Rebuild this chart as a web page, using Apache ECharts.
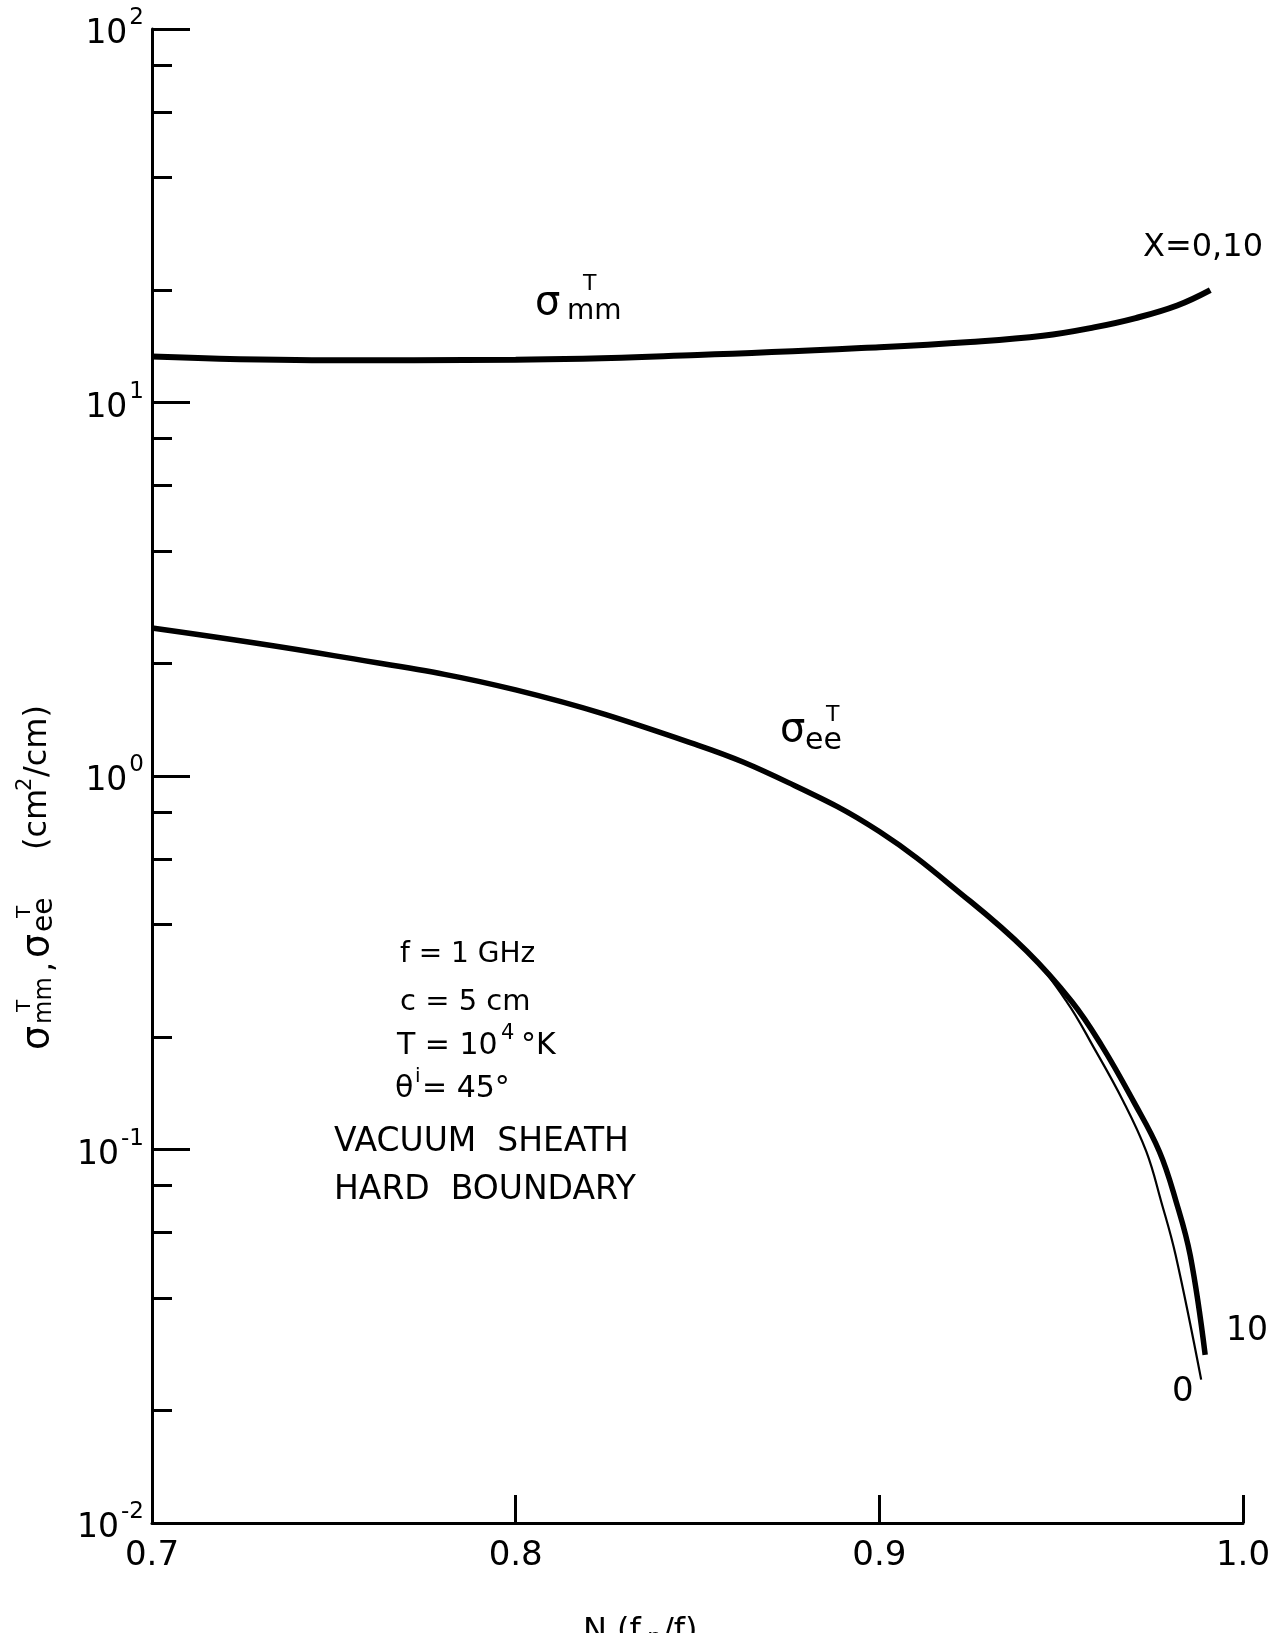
<!DOCTYPE html>
<html><head><meta charset="utf-8">
<script src="https://cdn.jsdelivr.net/npm/echarts@6/dist/echarts.min.js"></script>
<style>html,body{margin:0;padding:0;background:#fff}#c{width:1278px;height:1633px}</style>
</head><body><div id="c"></div>
<script>
// ---- data ----
const xTickValues = [0.7, 0.8, 0.9, 1.0];
const yMajorTicks = [0.01, 0.1, 1, 10, 100];
const yMinorTicks = [0.02,0.04,0.06,0.08, 0.2,0.4,0.6,0.8, 2,4,6,8, 20,40,60,80];

// sigma_mm^T, X = 0 and 10 (coincident)
const mmX = [0.700, 0.744, 0.800, 0.850, 0.900, 0.925, 0.945, 0.959, 0.9705, 0.9819, 0.9910];
const mmY = [13.27, 12.98, 13.02, 13.40, 14.06, 14.52, 15.09, 15.89, 16.83, 18.19, 20.0];

// sigma_ee^T, X = 10 (heavy line)
const ee10X = [0.700, 0.750, 0.800, 0.850, 0.875, 0.900, 0.925, 0.9405, 0.9529, 0.9611, 0.9699, 0.9770, 0.9816, 0.9855, 0.9896];
const ee10Y = [2.49, 2.10, 1.70, 1.21, 0.96, 0.71, 0.462, 0.340, 0.249, 0.190, 0.1345, 0.0988, 0.0726, 0.0520, 0.0282];

// sigma_ee^T, X = 0 (light line)
const ee0X = [0.700, 0.750, 0.800, 0.850, 0.875, 0.900, 0.925, 0.9405, 0.9515, 0.9589, 0.9671, 0.9734, 0.9775, 0.9815, 0.9885];
const ee0Y = [2.49, 2.10, 1.70, 1.21, 0.96, 0.71, 0.462, 0.340, 0.249, 0.188, 0.1345, 0.0988, 0.0726, 0.0520, 0.0242];

const FONT = '"DejaVu Sans", "Liberation Sans", sans-serif';
const zip = (xs, ys) => xs.map((x, i) => [x, ys[i]]);

function txt(t, x, y, size, align, extra) {
  return Object.assign({
    type: 'text', x: x, y: y,
    style: { text: t, font: size + 'px ' + FONT, fill: '#000',
             textAlign: align || 'left', textVerticalAlign: 'middle' }
  }, extra || {});
}
function group(x, y, rotation, pieces) {
  return { type: 'group', x: x, y: y, rotation: rotation || 0,
    children: pieces.map(p => txt(p[0], p[1], p[2], p[3], p[4])) };
}

const chart = echarts.init(document.getElementById('c'), null, { renderer: 'canvas' });

const lineBase = { type: 'line', yAxisIndex: 0, symbol: 'none', showSymbol: false, smooth: 0.4 };

const option = {
  backgroundColor: '#fff',
  animation: false,
  grid: { left: 152, right: 35, top: 29, bottom: 110 },
  xAxis: {
    type: 'value', min: 0.7, max: 1.0, interval: 0.1,
    axisLine: { show: true, lineStyle: { color: '#000', width: 3 } },
    axisTick: { show: true, inside: true, length: 28, lineStyle: { color: '#000', width: 3 } },
    axisLabel: { show: true, margin: 16, color: '#000', fontSize: 34, fontFamily: FONT,
      formatter: v => v.toFixed(1) },
    splitLine: { show: false }
  },
  yAxis: [{
    type: 'log', logBase: 10, min: 0.01, max: 100,
    axisLine: { show: true, lineStyle: { color: '#000', width: 3 } },
    axisTick: { show: true, inside: true, length: 38, customValues: yMajorTicks,
      lineStyle: { color: '#000', width: 3 } },
    axisLabel: { show: true, margin: 8, customValues: yMajorTicks,
      formatter: v => { const e = Math.round(Math.log10(v)); return '{b|10}{s|' + (e < 0 ? '-' + (-e) : e) + '}'; },
      rich: {
        b: { fontSize: 33, fontFamily: FONT, color: '#000', lineHeight: 44, verticalAlign: 'bottom' },
        s: { fontSize: 23, fontFamily: FONT, color: '#000', lineHeight: 24, verticalAlign: 'top', padding: [0, 0, 0, 2] }
      } },
    splitLine: { show: false }
  }, {
    type: 'log', logBase: 10, min: 0.01, max: 100, position: 'left', offset: 0,
    axisLine: { show: false },
    axisTick: { show: true, inside: true, length: 20, customValues: yMinorTicks,
      lineStyle: { color: '#000', width: 3 } },
    axisLabel: { show: false },
    splitLine: { show: false }
  }],
  series: [
    Object.assign({ name: 'mm X=0,10', data: zip(mmX, mmY), lineStyle: { color: '#000', width: 6 } }, lineBase),
    Object.assign({ name: 'ee X=10', data: zip(ee10X, ee10Y), lineStyle: { color: '#000', width: 5.5 } }, lineBase),
    Object.assign({ name: 'ee X=0', data: zip(ee0X, ee0Y), lineStyle: { color: '#000', width: 2.2 } }, lineBase)
  ],
  graphic: [
    // curve labels
    group(535, 304, 0, [['σ', 0, 0, 40], ['mm', 32, 8, 28], ['T', 48, -20, 22]]),
    group(780, 731, 0, [['σ', 0, 0, 40], ['ee', 25, 10, 30], ['T', 46, -16, 22]]),
    txt('X=0,10', 1143, 248, 32),
    txt('10', 1226, 1331, 33),
    txt('0', 1172, 1392, 34),
    // parameter block
    txt('f = 1 GHz', 400, 955, 28),
    txt('c = 5 cm', 400, 1002, 29),
    group(397, 1046, 0, [['T = 10', 0, 0, 30], ['4', 104, -12, 21], ['°K', 124, 0, 30]]),
    group(395, 1089, 0, [['θ', 0, 0, 30], ['i', 20, -12, 20], ['= 45°', 27, 0, 30]]),
    txt('VACUUM  SHEATH', 334, 1142, 33),
    txt('HARD  BOUNDARY', 334, 1190, 33),
    // y-axis title (rotated, reads bottom to top)
    group(38, 1050, Math.PI / 2, [
      ['σ', 0, 0, 38], ['mm', 26, 7, 24], ['T', 38, -13, 20],
      [',', 78, 6, 32],
      ['σ', 92, 0, 38], ['ee', 118, 7, 28], ['T', 132, -13, 20],
      ['(cm', 200, 0, 32], ['2', 259, -12, 21], ['/cm)', 273, 0, 32]
    ]),
    // x-axis title (cut at page bottom, as in the source)
    group(583, 1632, 0, [['N (f', 0, 0, 32], ['p', 64, 8, 24], ['/f)', 80, 0, 32]])
  ]
};
chart.setOption(option);
</script>
</body></html>
